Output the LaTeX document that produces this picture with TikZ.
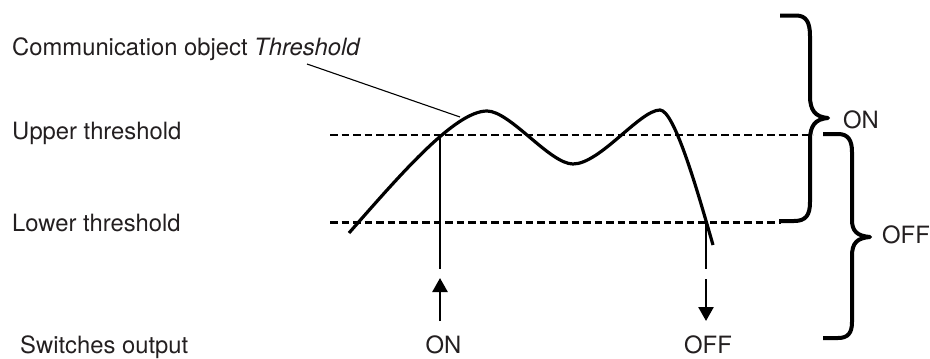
\documentclass[tikz,border=0pt]{standalone}
\usepackage{fontspec}
\setmainfont{TeX Gyre Heros}
\usetikzlibrary{arrows.meta}
\definecolor{txt}{HTML}{231F20}
\begin{document}
\begin{tikzpicture}[x=1pt,y=-1pt,
  lbl/.style={inner sep=0pt,text=txt,font=\fontsize{23.8}{28}\selectfont},
  thr/.style={line width=2.8pt,dash pattern=on 7.5pt off 4pt},
  curve/.style={line width=3.2pt,line cap=butt},
  thin/.style={line width=1.1pt},
  brace/.style={line width=4pt,line join=round},
  arr/.style={line width=2.6pt,-{Triangle[length=14pt,width=15pt]}}]
\useasboundingbox (0,0) rectangle (930,359);
% labels
\node[lbl,anchor=base west] (comm) at (12,55) {Communication object \textit{Threshold}};
\node[lbl,anchor=base west] (upper) at (12,139.5) {Upper threshold};
\node[lbl,anchor=base west] (lower) at (12,231.5) {Lower threshold};
\node[lbl,anchor=base west] (sw) at (20,353) {Switches output};
\node[lbl,anchor=base] (onb) at (443.5,353) {ON};
\node[lbl,anchor=base] (offb) at (708,353) {OFF};
\node[lbl,anchor=base west] (onr) at (843,128) {ON};
\node[lbl,anchor=base west] (offr) at (882,243) {OFF};
% coordinates
\coordinate (u0) at (330,135);
\coordinate (u1) at (813,135);
\coordinate (l0) at (330,222.5);
\coordinate (l1) at (781,222.5);
\coordinate (lead0) at (307,64);
\coordinate (lead1) at (460,117);
\coordinate (onx) at (440,135);
\coordinate (onx1) at (440,269);
\coordinate (ona0) at (440,321);
\coordinate (ona1) at (440,278);
\coordinate (offx) at (706,222);
\coordinate (offx1) at (706,269);
\coordinate (offa0) at (706,279);
\coordinate (offa1) at (706,321);
% threshold lines
\draw[thr] (u0) -- (u1);
\draw[thr] (l0) -- (l1);
% curve
\draw[curve] (349,233) .. controls (400,175) and (455,111) .. (487,111)
  .. controls (510,111) and (550,164) .. (573,164)
  .. controls (600,164) and (640,110) .. (660,110)
  .. controls (675,110) and (700,200) .. (713,245);
% leader
\draw[thin] (lead0) -- (lead1);
% verticals and arrows
\draw[thin] (onx) -- (onx1);
\draw[arr] (ona0) -- (ona1);
\draw[thin] (offx) -- (offx1);
\draw[arr] (offa0) -- (offa1);
% braces
\draw[brace] (780,15.5) -- (796,15.5) .. controls (806,15.5) and (810,22) .. (810,36) -- (810,96)
  .. controls (810,110) and (815,117) .. (828,118)
  .. controls (815,119) and (810,126) .. (810,140) -- (810,202)
  .. controls (810,215) and (806,221) .. (794,221) -- (779,221);
\draw[brace] (823,134) -- (838,134) .. controls (848,134) and (852,140) .. (852,152) -- (852,220)
  .. controls (852,231) and (857,236) .. (870,237)
  .. controls (857,238) and (852,243) .. (852,256) -- (852,322)
  .. controls (852,333) and (848,338) .. (838,338) -- (823,338);
\end{tikzpicture}
\end{document}
